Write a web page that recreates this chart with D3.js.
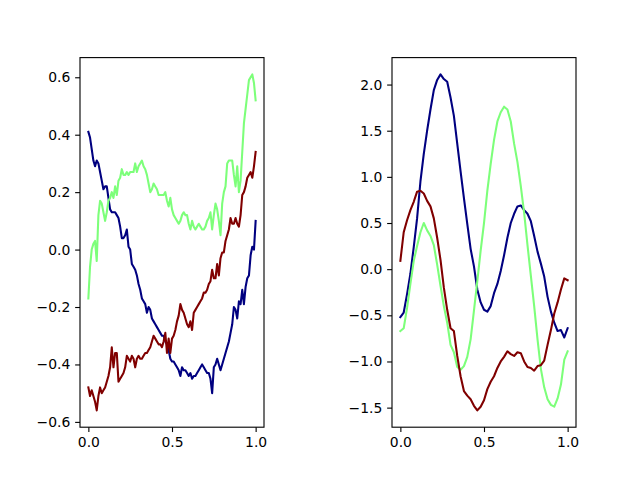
<!DOCTYPE html>
<html>
<head>
<meta charset="utf-8">
<script src="https://cdn.jsdelivr.net/npm/d3@7"></script>
<style>
  body { margin: 0; background: #fff; }
  svg { display: block; }
  .tick text { font-family: "DejaVu Sans", sans-serif; font-size: 13.9px; fill: #000; }
</style>
</head>
<body>
<svg id="chart" width="640" height="480"></svg>
<script>
// left panel: noisy walks, x = 0.00 .. 1.00
const xLeft = [
  0.00, 0.01, 0.02, 0.03, 0.04, 0.05, 0.06, 0.07, 0.08, 0.09,
  0.10, 0.11, 0.12, 0.13, 0.14, 0.15, 0.16, 0.17, 0.18, 0.19,
  0.20, 0.21, 0.22, 0.23, 0.24, 0.25, 0.26, 0.27, 0.28, 0.29,
  0.30, 0.31, 0.32, 0.33, 0.34, 0.35, 0.36, 0.37, 0.38, 0.39,
  0.40, 0.41, 0.42, 0.43, 0.44, 0.45, 0.46, 0.47, 0.48, 0.49,
  0.50, 0.51, 0.52, 0.53, 0.54, 0.55, 0.56, 0.57, 0.58, 0.59,
  0.60, 0.61, 0.62, 0.63, 0.64, 0.65, 0.66, 0.67, 0.68, 0.69,
  0.70, 0.71, 0.72, 0.73, 0.74, 0.75, 0.76, 0.77, 0.78, 0.79,
  0.80, 0.81, 0.82, 0.83, 0.84, 0.85, 0.86, 0.87, 0.88, 0.89,
  0.90, 0.91, 0.92, 0.93, 0.94, 0.95, 0.96, 0.97, 0.98, 0.99,
  1.00
]
const leftNavy = [
  0.41, 0.39, 0.35, 0.31, 0.29, 0.31, 0.30, 0.27, 0.24, 0.21,
  0.22, 0.22, 0.18, 0.14, 0.13, 0.13, 0.13, 0.12, 0.11, 0.08,
  0.04, 0.04, 0.05, 0.07, 0.01, 0.00, -0.05, -0.06, -0.07, -0.09,
  -0.12, -0.14, -0.17, -0.18, -0.19, -0.22, -0.20, -0.21, -0.24, -0.25,
  -0.26, -0.27, -0.28, -0.29, -0.30, -0.30, -0.32, -0.33, -0.35, -0.38,
  -0.39, -0.39, -0.40, -0.41, -0.42, -0.44, -0.41, -0.42, -0.42, -0.43,
  -0.44, -0.43, -0.45, -0.44, -0.44, -0.43, -0.42, -0.41, -0.40, -0.41,
  -0.42, -0.43, -0.43, -0.45, -0.50, -0.41, -0.40, -0.38, -0.40, -0.42,
  -0.40, -0.38, -0.36, -0.34, -0.32, -0.29, -0.26, -0.20, -0.21, -0.24,
  -0.18, -0.19, -0.14, -0.19, -0.13, -0.10, -0.09, -0.02, 0.01, 0.00,
  0.10
]
const leftGreen = [
  -0.17, -0.06, 0.00, 0.02, 0.03, -0.04, 0.12, 0.17, 0.16, 0.13,
  0.10, 0.13, 0.17, 0.18, 0.20, 0.18, 0.22, 0.19, 0.24, 0.25,
  0.28, 0.26, 0.26, 0.27, 0.26, 0.27, 0.27, 0.27, 0.30, 0.27,
  0.29, 0.30, 0.31, 0.29, 0.28, 0.26, 0.23, 0.20, 0.21, 0.23,
  0.22, 0.21, 0.19, 0.19, 0.19, 0.19, 0.20, 0.17, 0.15, 0.18,
  0.14, 0.12, 0.11, 0.10, 0.09, 0.10, 0.12, 0.13, 0.12, 0.12,
  0.09, 0.07, 0.10, 0.08, 0.07, 0.08, 0.09, 0.08, 0.07, 0.07,
  0.08, 0.10, 0.11, 0.13, 0.07, 0.12, 0.16, 0.14, 0.10, 0.05,
  0.16, 0.20, 0.22, 0.30, 0.31, 0.31, 0.31, 0.26, 0.22, 0.29,
  0.20, 0.24, 0.34, 0.44, 0.49, 0.54, 0.59, 0.60, 0.61, 0.58,
  0.52
]
const leftMaroon = [
  -0.48, -0.51, -0.49, -0.51, -0.53, -0.56, -0.51, -0.48, -0.50, -0.49,
  -0.48, -0.46, -0.44, -0.41, -0.34, -0.41, -0.36, -0.36, -0.46, -0.45,
  -0.44, -0.43, -0.41, -0.37, -0.38, -0.39, -0.37, -0.38, -0.41, -0.38,
  -0.37, -0.38, -0.38, -0.37, -0.36, -0.36, -0.35, -0.34, -0.32, -0.30,
  -0.31, -0.32, -0.33, -0.33, -0.34, -0.32, -0.29, -0.36, -0.31, -0.36,
  -0.31, -0.30, -0.28, -0.25, -0.23, -0.19, -0.21, -0.22, -0.24, -0.26,
  -0.27, -0.25, -0.28, -0.22, -0.21, -0.20, -0.19, -0.18, -0.17, -0.15,
  -0.15, -0.14, -0.12, -0.11, -0.07, -0.10, -0.10, -0.05, -0.09, -0.03,
  -0.01, -0.01, 0.03, 0.05, 0.07, 0.11, 0.09, 0.09, 0.11, 0.09,
  0.08, 0.12, 0.19, 0.20, 0.22, 0.25, 0.26, 0.27, 0.25, 0.29,
  0.34
]

// right panel: smooth waves, x = 0.00 .. 1.00
const xRight = [
  0.00, 0.02, 0.04, 0.06, 0.08, 0.10, 0.12, 0.14, 0.16, 0.18,
  0.20, 0.22, 0.24, 0.26, 0.28, 0.30, 0.32, 0.34, 0.36, 0.38,
  0.40, 0.42, 0.44, 0.46, 0.48, 0.50, 0.52, 0.54, 0.56, 0.58,
  0.60, 0.62, 0.64, 0.66, 0.68, 0.70, 0.72, 0.74, 0.76, 0.78,
  0.80, 0.82, 0.84, 0.86, 0.88, 0.90, 0.92, 0.94, 0.96, 0.98,
  1.00
]
const rightNavy = [
  -0.52, -0.47, -0.27, -0.05, 0.24, 0.55, 0.95, 1.25, 1.50, 1.73,
  1.94, 2.05, 2.11, 2.06, 2.03, 1.86, 1.66, 1.36, 1.06, 0.77,
  0.49, 0.22, 0.03, -0.22, -0.36, -0.44, -0.46, -0.40, -0.26, -0.16,
  -0.02, 0.15, 0.34, 0.50, 0.60, 0.68, 0.69, 0.64, 0.60, 0.52,
  0.36, 0.19, 0.06, -0.08, -0.30, -0.46, -0.58, -0.67, -0.66, -0.74,
  -0.64
]
const rightGreen = [
  -0.67, -0.64, -0.42, -0.16, 0.09, 0.25, 0.40, 0.50, 0.42, 0.36,
  0.26, 0.05, -0.18, -0.40, -0.58, -0.82, -0.90, -1.06, -1.09, -1.05,
  -0.95, -0.76, -0.45, -0.13, 0.20, 0.50, 0.85, 1.14, 1.40, 1.60,
  1.70, 1.76, 1.73, 1.60, 1.36, 1.16, 0.90, 0.61, 0.26, -0.07,
  -0.40, -0.76, -1.08, -1.28, -1.41, -1.47, -1.49, -1.40, -1.25, -0.98,
  -0.89
]
const rightMaroon = [
  0.09, 0.40, 0.53, 0.64, 0.73, 0.84, 0.85, 0.82, 0.74, 0.68,
  0.55, 0.34, 0.10, -0.20, -0.44, -0.64, -0.67, -0.94, -1.16, -1.32,
  -1.37, -1.41, -1.48, -1.53, -1.49, -1.42, -1.30, -1.22, -1.16, -1.07,
  -1.00, -0.95, -0.89, -0.92, -0.94, -0.90, -0.91, -1.00, -1.06, -1.07,
  -1.10, -1.05, -1.04, -0.99, -0.82, -0.66, -0.48, -0.36, -0.22, -0.10,
  -0.12
]

const xTicks = [0, 0.5, 1]
const leftYTicks = [-0.6, -0.4, -0.2, 0, 0.2, 0.4, 0.6]
const rightYTicks = [-1.5, -1.0, -0.5, 0, 0.5, 1.0, 1.5, 2.0]
const colors = ['#000080', '#7dff7a', '#800000']

const svg = d3.select('#chart')
const pt = 100 / 72
const plotTop = 57.6
const plotBottom = 427.2
const panelWidth = 184

// matplotlib-style autoscale: data extent plus 5% on each side
function padded (values) {
  const [lo, hi] = d3.extent(values)
  const m = (hi - lo) * 0.05
  return [lo - m, hi + m]
}

function tickFormat (d) {
  return d3.format('.1f')(d).replace('-', '\u2212')
}

function panel (left, xs, series, yTicks) {
  const g = svg.append('g')

  const xScale = d3.scaleLinear()
    .domain(padded(xs))
    .range([left, left + panelWidth])

  const yScale = d3.scaleLinear()
    .domain(padded(series.flat()))
    .range([plotBottom, plotTop])

  const line = d3.line()
    .x((d, i) => xScale(xs[i]))
    .y((d) => yScale(d))

  const clipId = `clip${Math.round(left)}`
  g.append('clipPath')
    .attr('id', clipId)
    .append('rect')
    .attr('x', left)
    .attr('y', plotTop)
    .attr('width', panelWidth)
    .attr('height', plotBottom - plotTop)

  series.forEach((s, i) => {
    g.append('path')
      .datum(s)
      .attr('clip-path', `url(#${clipId})`)
      .attr('fill', 'none')
      .attr('stroke', colors[i])
      .attr('stroke-width', 1.5 * pt)
      .attr('stroke-linejoin', 'round')
      .attr('stroke-linecap', 'square')
      .attr('d', line)
  })

  // x axis
  g.append('g')
    .attr('transform', `translate(0, ${plotBottom})`)
    .call(d3.axisBottom(xScale)
      .tickValues(xTicks)
      .tickFormat(tickFormat)
      .tickSize(3.5 * pt)
      .tickPadding(3.5 * pt))

  // y axis
  g.append('g')
    .attr('transform', `translate(${left}, 0)`)
    .call(d3.axisLeft(yScale)
      .tickValues(yTicks)
      .tickFormat(tickFormat)
      .tickSize(3.5 * pt)
      .tickPadding(3.5 * pt))

  g.selectAll('.domain').remove()
  g.selectAll('.tick line')
    .attr('stroke', '#000')
    .attr('stroke-width', 0.8 * pt)

  // frame
  g.append('rect')
    .attr('x', left)
    .attr('y', plotTop)
    .attr('width', panelWidth)
    .attr('height', plotBottom - plotTop)
    .attr('fill', 'none')
    .attr('stroke', '#000')
    .attr('stroke-width', 0.8 * pt)
}

panel(80, xLeft, [leftNavy, leftGreen, leftMaroon], leftYTicks)
panel(392, xRight, [rightNavy, rightGreen, rightMaroon], rightYTicks)
</script>
</body>
</html>
